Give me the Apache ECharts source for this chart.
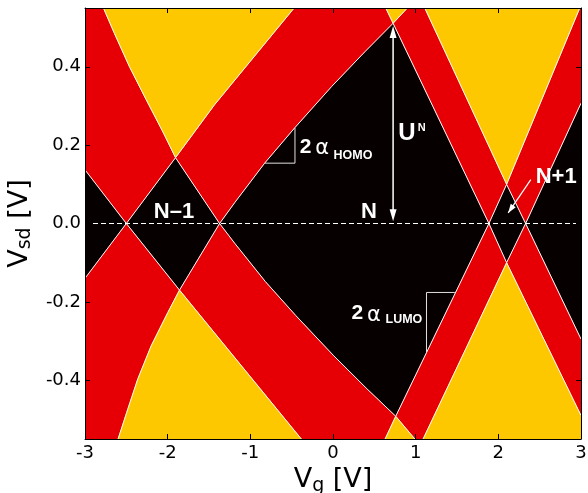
<!DOCTYPE html>
<html>
<head>
<meta charset="utf-8">
<script src="https://cdn.jsdelivr.net/npm/echarts@6/dist/echarts.min.js"></script>
<style>
html, body { margin: 0; padding: 0; background: #fff; }
#chart { width: 588px; height: 493px; }
</style>
</head>
<body>
<div id="chart"></div>
<script>
// axes
var xTicks = [-3, -2, -1, 0, 1, 2, 3];
var yTicks = [-0.4, -0.2, 0, 0.2, 0.4];
var vgRange = [-3, 3];
var vsdRange = [-0.55, 0.55];

// degeneracy points on Vsd = 0 and the diamond tips
var A = [-2.50, 0], B = [-1.372, 0], C = [1.886, 0], D = [2.33, 0];
var T1 = [-1.905, 0.168], B1 = [-1.857, -0.170];
var T2 = [0.727, 0.511], B2 = [0.759, -0.492];
var T3 = [2.10, 0.10], B3 = [2.10, -0.10];

// where the lines leave the frame
var leftUp = [-3, 0.137], leftDown = [-3, -0.14];
var rightUp = [3, 0.307], rightDown = [3, -0.295], rightLow = [3, -0.49];
var topA = [-0.47, 0.55], topCl = [0.638, 0.55], topB = [0.90, 0.55], topD = [1.11, 0.55], topC = [2.985, 0.55];
var botA = [-0.383, -0.55], botCl = [0.63, -0.55], botB = [0.99, -0.55], botD = [1.09, -0.55];
var cornerTL = [-3, 0.55], cornerBL = [-3, -0.55], cornerTR = [3, 0.55], cornerBR = [3, -0.55];

// curved edges
var curveUpLeft = [T1, [-2.051, 0.231], [-2.26, 0.316], [-2.462, 0.40], [-2.644, 0.485], [-2.777, 0.55]];
var curveDownLeft = [B1, [-1.998, -0.227], [-2.199, -0.312], [-2.362, -0.397], [-2.495, -0.482], [-2.60, -0.55]];
var curveUpRight = [B, [-1.19, 0.053], [-0.827, 0.154], [-0.464, 0.244], [-0.019, 0.349], [0.384, 0.438], T2];
var curveDownRight = [B, [-1.187, -0.051], [-0.819, -0.148], [-0.45, -0.235], [0.002, -0.336], [0.411, -0.422], B2];
var lineAUp = [A, T1, [-1.433, 0.303], topA];
var lineADown = [A, B1, botA];

function rev(a) { return a.slice().reverse(); }

var blackRegions = [
  [leftUp, A, leftDown],
  [A, T1, B, B1],
  curveUpRight.concat([C]).concat(rev(curveDownRight).slice(0, -1)),
  [C, T3, D, B3],
  [D, rightUp, rightDown]
];
var redRegions = [
  [cornerTL].concat(rev(curveUpLeft)).concat([A, leftUp]),
  [leftDown, A].concat(curveDownLeft).concat([cornerBL]),
  [T1, [-1.433, 0.303], topA, topCl].concat(rev(curveUpRight)),
  [B1].concat(curveDownRight).concat([botCl, botA]),
  [T2, topB, topD, T3, C],
  [B2, C, B3, botD, botB],
  [T3, topC, cornerTR, rightUp, D],
  [B3, D, rightDown, rightLow]
];
var yellowRegions = [
  curveUpLeft.concat([topA, [-1.433, 0.303]]),
  curveDownLeft.concat([botA]),
  [T2, topCl, topB],
  [B2, botCl, botB],
  [T3, topD, topC],
  [B3, botD, cornerBR, rightLow]
];
var edgeLines = [
  [A, leftUp], [A, leftDown], lineAUp, lineADown,
  [B, T1].concat(curveUpLeft.slice(1)),
  [B, B1].concat(curveDownLeft.slice(1)),
  curveUpRight.concat([topB]),
  curveDownRight.concat([botB]),
  [C, T2, topCl], [C, B2, botCl], [C, T3, topC], [C, B3, rightLow],
  [D, T3, topD], [D, B3, botD], [D, rightUp], [D, rightDown]
];

// annotations
var labelAt = {
  nMinus: [-1.923, 0.030], n: [0.435, 0.030], nPlus: [2.70, 0.118],
  u: [0.893, 0.229], uSup: [1.074, 0.244],
  homo2: [-0.331, 0.195], homoAlpha: [-0.131, 0.191], homoSub: [0.242, 0.174],
  lumo2: [0.293, -0.228], lumoAlpha: [0.495, -0.234], lumoSub: [0.858, -0.246]
};
var uArrow = [[0.727, 0.006], [0.727, 0.504]];
var nPlusArrow = [[2.393, 0.112], [2.119, 0.027]];
var homoBracket = [[-0.827, 0.154], [-0.46, 0.154], [-0.46, 0.244]];
var lumoBracket = [[1.474, -0.176], [1.131, -0.176], [1.131, -0.33]];
var zeroLine = [[-3, 0], [3, 0]];

function polySeries(polys, color) {
  return {
    type: 'custom', coordinateSystem: 'cartesian2d', silent: true, clip: true, z: 1,
    data: polys.map(function (p) { return p[0]; }),
    renderItem: function (params, api) {
      var pts = polys[params.dataIndex].map(function (p) { return api.coord(p); });
      return { type: 'polygon', shape: { points: pts }, style: { fill: color, stroke: color, lineWidth: 0.6 } };
    }
  };
}

function head(tip, from, len, half) {
  var dx = tip[0] - from[0], dy = tip[1] - from[1];
  var l = Math.sqrt(dx * dx + dy * dy); dx /= l; dy /= l;
  var bx = tip[0] - dx * len, by = tip[1] - dy * len;
  return { type: 'polygon', shape: { points: [tip, [bx - dy * half, by + dx * half], [bx + dy * half, by - dx * half]] }, style: { fill: '#fff' } };
}

function notes(params, api) {
  var kids = [];
  function txt(s, at, font, align) {
    var p = api.coord(at);
    kids.push({ type: 'text', x: p[0], y: p[1], style: { text: s, fill: '#fff', font: font, align: align || 'center', verticalAlign: 'middle' } });
  }
  function poly(pts, color, w, dash) {
    kids.push({ type: 'polyline', shape: { points: pts.map(function (p) { return api.coord(p); }) }, style: { stroke: color, lineWidth: w, fill: null, lineDash: dash || null } });
  }
  poly(zeroLine, '#fff', 1.2, [5, 3]);
  poly(homoBracket, '#e0e0e0', 1);
  poly(lumoBracket, '#e0e0e0', 1);
  var bold = 'bold 22px "Liberation Sans"';
  txt('N\u20131', labelAt.nMinus, bold);
  txt('N', labelAt.n, bold);
  txt('N+1', labelAt.nPlus, bold);
  txt('U', labelAt.u, 'bold 24px "Liberation Sans"');
  txt('N', labelAt.uSup, 'bold 11px "Liberation Sans"');
  txt('2', labelAt.homo2, 'bold 21px "Liberation Sans"');
  txt('\u03b1', labelAt.homoAlpha, '21px "DejaVu Sans"');
  txt('HOMO', labelAt.homoSub, 'bold 12.5px "Liberation Sans"');
  txt('2', labelAt.lumo2, 'bold 21px "Liberation Sans"');
  txt('\u03b1', labelAt.lumoAlpha, '21px "DejaVu Sans"');
  txt('LUMO', labelAt.lumoSub, 'bold 12.5px "Liberation Sans"');
  var u0 = api.coord(uArrow[0]), u1 = api.coord(uArrow[1]);
  kids.push({ type: 'line', shape: { x1: u0[0], y1: u0[1] - 8, x2: u1[0], y2: u1[1] + 8 }, style: { stroke: '#fff', lineWidth: 1.5 } });
  kids.push(head(u0, u1, 12, 3.5));
  kids.push(head(u1, u0, 12, 3.5));
  var a0 = api.coord(nPlusArrow[0]), a1 = api.coord(nPlusArrow[1]);
  kids.push({ type: 'line', shape: { x1: a0[0], y1: a0[1], x2: a1[0], y2: a1[1] }, style: { stroke: '#fff', lineWidth: 1.2 } });
  kids.push(head(a1, a0, 9, 3));
  return { type: 'group', children: kids };
}

var axisFont = { fontFamily: 'DejaVu Sans', fontSize: 18, color: '#000' };
var frame = { onZero: false, lineStyle: { color: '#000', width: 1 } };

var opts = {
  animation: false,
  grid: { left: 85, right: 7, top: 8, bottom: 54, show: true, backgroundColor: '#070000', borderWidth: 0, outerBoundsMode: 'none', containLabel: false },
  xAxis: [
    {
      type: 'value', min: vgRange[0], max: vgRange[1], interval: 1, position: 'bottom', z: 10,
      axisLine: frame, axisTick: { inside: true, length: 5, lineStyle: { color: '#000' } },
      axisLabel: Object.assign({ margin: 5 }, axisFont), splitLine: { show: false },
      name: '{a|V}{b|g}{a| [V]}', nameLocation: 'middle', nameGap: 22,
      nameTextStyle: { rich: {
        a: { fontFamily: 'DejaVu Sans', fontSize: 27, color: '#000', lineHeight: 30 },
        b: { fontFamily: 'DejaVu Sans', fontSize: 19, color: '#000', lineHeight: 14, verticalAlign: 'bottom' }
      } }
    },
    {
      type: 'value', min: vgRange[0], max: vgRange[1], interval: 1, position: 'top', z: 10,
      axisLine: frame, axisTick: { inside: true, length: 5, lineStyle: { color: '#000' } },
      axisLabel: { show: false }, splitLine: { show: false }
    }
  ],
  yAxis: [
    {
      type: 'value', min: vsdRange[0], max: vsdRange[1], position: 'left', z: 10,
      axisLine: frame, axisTick: { inside: true, length: 5, customValues: yTicks, lineStyle: { color: '#000' } },
      axisLabel: Object.assign({ margin: 4, customValues: yTicks, formatter: function (v) { return v.toFixed(1); } }, axisFont),
      splitLine: { show: false },
      name: '{a|V}{b|sd}{a| [V]}', nameLocation: 'middle', nameGap: 45, nameRotate: 90,
      nameTextStyle: { rich: {
        a: { fontFamily: 'DejaVu Sans', fontSize: 27, color: '#000', lineHeight: 30 },
        b: { fontFamily: 'DejaVu Sans', fontSize: 19, color: '#000', lineHeight: 14, verticalAlign: 'bottom' }
      } }
    },
    {
      type: 'value', min: vsdRange[0], max: vsdRange[1], position: 'right', z: 10,
      axisLine: frame, axisTick: { inside: true, length: 5, customValues: yTicks, lineStyle: { color: '#000' } },
      axisLabel: { show: false }, splitLine: { show: false }
    }
  ],
  series: [
    polySeries(blackRegions, '#070000'),
    polySeries(redRegions, '#e60005'),
    polySeries(yellowRegions, '#fec800'),
    {
      type: 'custom', coordinateSystem: 'cartesian2d', silent: true, clip: true, z: 3,
      data: edgeLines.map(function (l) { return l[0]; }),
      renderItem: function (params, api) {
        var pts = edgeLines[params.dataIndex].map(function (p) { return api.coord(p); });
        return { type: 'polyline', shape: { points: pts }, style: { stroke: '#fff', lineWidth: 1, fill: null } };
      }
    },
    {
      type: 'custom', coordinateSystem: 'cartesian2d', silent: true, clip: true, z: 4,
      data: [[0, 0]],
      renderItem: notes
    }
  ]
};

echarts.init(document.getElementById('chart')).setOption(opts);
</script>
</body>
</html>
